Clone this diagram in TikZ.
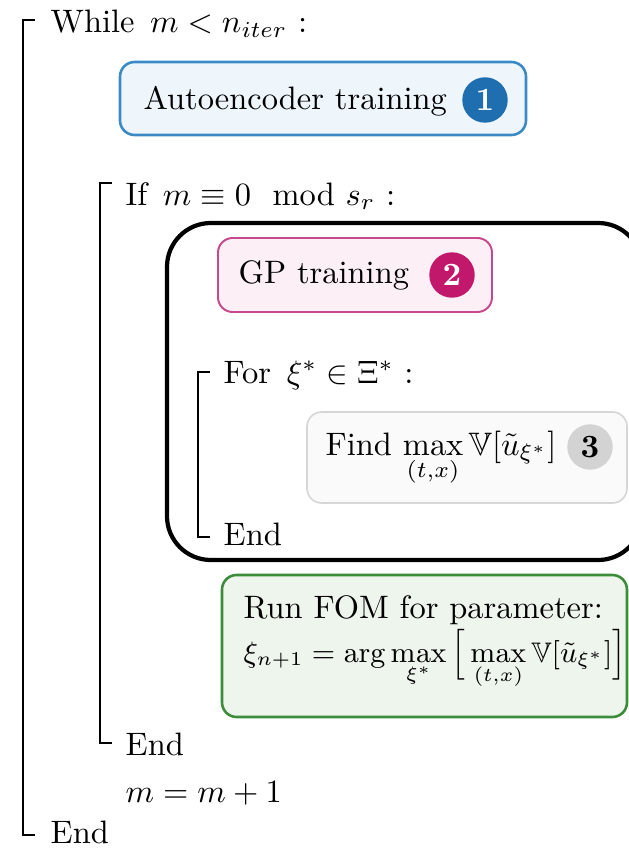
\documentclass[tikz,border=0pt]{standalone}
\usepackage{amsmath}
\usepackage{amssymb}
\usepackage{xcolor}
\usetikzlibrary{fit}

\definecolor{aeline}{HTML}{3B8AC4}
\definecolor{aefill}{HTML}{EEF6FC}
\definecolor{aedark}{HTML}{1F6EB0}
\definecolor{gpline}{HTML}{C8488C}
\definecolor{gpfill}{HTML}{FCF0F6}
\definecolor{gpdark}{HTML}{C2186B}
\definecolor{vrline}{HTML}{D6D6D6}
\definecolor{vrfill}{HTML}{FAFAFA}
\definecolor{vrdark}{HTML}{D3D3D3}
\definecolor{fomline}{HTML}{3C8C3C}
\definecolor{fomfill}{HTML}{EEF5EC}

\begin{document}
\begin{tikzpicture}[
    x=0.308pt, y=-0.308pt,
    stage/.style={rectangle, rounded corners=4.5pt, inner sep=0pt, line width=0.8pt},
    frame/.style={rectangle, draw, rounded corners=13.5pt, inner sep=0pt, line width=1.3pt},
    badge/.style={circle, inner sep=0pt, minimum size=14pt, font=\bfseries},
    txt/.style={anchor=base west, inner sep=0pt},
    bracket/.style={line width=0.9pt}
]
    \useasboundingbox (0,0) rectangle (628,850);

    % Boxes
    \node[stage, draw=aeline, fill=aefill, fit={(120,62) (526,135)}] (ae) {};
    \node[frame, fit={(167,223) (642,560)}] (gpblock) {};
    \node[stage, draw=gpline, fill=gpfill, line width=0.6pt, fit={(218,238) (492,312)}] (gp) {};
    \node[stage, draw=vrline, fill=vrfill, line width=0.5pt, fit={(307,412) (627,503)}] (var) {};
    \node[stage, draw=fomline, fill=fomfill, fit={(222,575) (627,717)}] (fom) {};

    % Badges
    \node[badge, fill=aedark, text=white] (b1) at (485,100) {1};
    \node[badge, fill=gpdark, text=white] (b2) at (452,275) {2};
    \node[badge, fill=vrdark] (b3) at (590,447) {3};

    % Text
    \node[txt] (while) at (50,33) {While\hspace{1.5pt} $m < n_{iter}$ :};
    \node[txt] (aetxt) at (143,110) {Autoencoder training};
    \node[txt] (if) at (125,205) {If\hspace{1.5pt} $m \equiv 0 \mod s_r$ :};
    \node[txt] (gptxt) at (238,283) {GP training};
    \node[txt] (for) at (223,383) {For\hspace{1.5pt} $\xi^* \in \Xi^*$ :};
    \node[txt] (vartxt) at (325,455) {Find $\max\limits_{(t,x)} \mathbb{V}[\tilde{u}_{\xi^*}]$};
    \node[txt] (endfor) at (223,545) {End};
    \node[txt] (fomtxt) at (243,618) {Run FOM for parameter:};
    \node[txt, font=\fontsize{8.7}{10.5}\selectfont] (fomeq) at (243,662) {$\xi_{n+1} = \arg\max\limits_{\xi^*} \Big[\max\limits_{(t,x)} \mathbb{V}[\tilde{u}_{\xi^*}]\Big]$};
    \node[txt] (endif) at (125,755) {End};
    \node[txt] (incr) at (125,802) {$m = m + 1$};
    \node[txt] (endwhile) at (50,843) {End};

    % Brackets
    \draw[bracket] (35,20) -- (23,20) -- (23,835) -- (35,835);
    \draw[bracket] (112,183) -- (100,183) -- (100,743) -- (112,743);
    \draw[bracket] (210,372) -- (198,372) -- (198,537) -- (210,537);
\end{tikzpicture}
\end{document}
